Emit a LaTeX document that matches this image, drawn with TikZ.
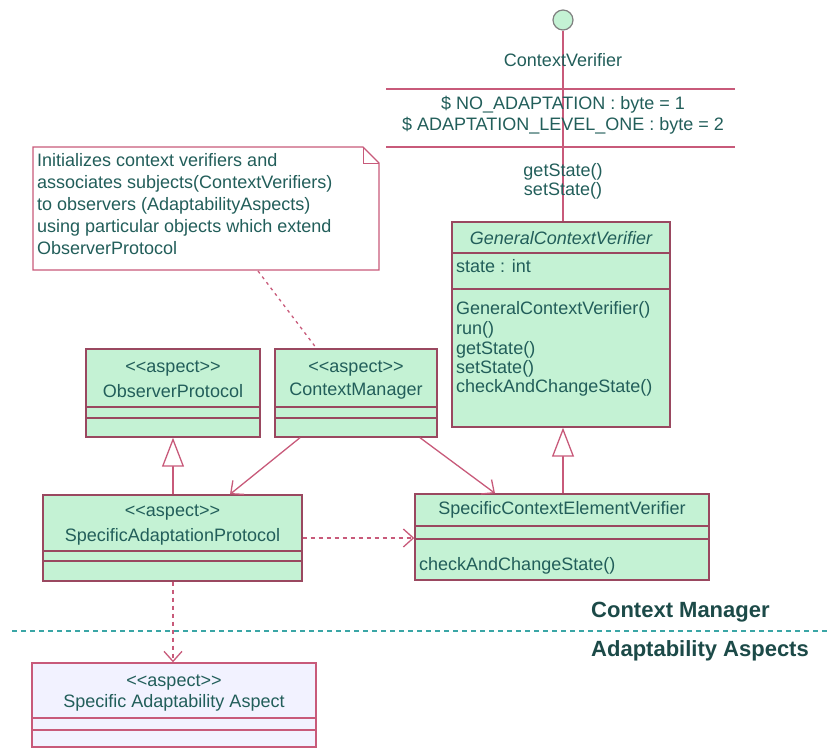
\documentclass[tikz,border=0pt]{standalone}
\usepackage{fontspec}
\setmainfont{Liberation Sans}
\usetikzlibrary{arrows.meta,calc}
\definecolor{boxfill}{HTML}{C4F2D4}
\definecolor{boxline}{HTML}{9A4860}
\definecolor{conn}{HTML}{C85A7A}
\definecolor{txt}{HTML}{225E5A}
\definecolor{lavfill}{HTML}{F2F2FF}
\definecolor{divline}{HTML}{3AA6A6}
\definecolor{bold}{HTML}{1C4A48}
\begin{document}
\begin{tikzpicture}[x=1pt,y=-1pt,
  cls/.style={draw=boxline, fill=boxfill, line width=1.4pt, rectangle, inner sep=0pt},
  sep/.style={draw=boxline, line width=1.4pt},
  t/.style={text=txt, font=\fontsize{18}{21}\selectfont, inner sep=0pt},
  tl/.style={t, anchor=west},
  lbl/.style={text=bold, font=\fontsize{22}{24}\selectfont\bfseries, anchor=west, inner sep=0pt},
  conline/.style={draw=conn, line width=1.3pt},
  gen/.style={conline, -{Triangle[length=29pt,width=22pt,fill=white]}},
  assoc/.style={conline, -{Straight Barb[length=10pt,width=18pt]}},
  dep/.style={conline, dash pattern=on 4pt off 4pt, -{Straight Barb[length=10pt,width=18pt]}},
  notelink/.style={conline, dash pattern=on 3pt off 4pt}
]
\useasboundingbox (0,0) rectangle (829,749);

% ---------- interface ContextVerifier ----------
\node[circle, draw=gray, fill=boxfill, line width=1.2pt, minimum size=20pt, inner sep=0pt] (CV) at (563,20) {};
\coordinate (hl1a) at (386,89);  \coordinate (hl1b) at (735,89);
\coordinate (hl2a) at (386,147); \coordinate (hl2b) at (735,147);
\draw[conline] (hl1a) -- (hl1b);
\draw[conline] (hl2a) -- (hl2b);

% ---------- GeneralContextVerifier ----------
\node[cls, minimum width=218pt, minimum height=205pt] (GCV) at (561,324.5) {};
\draw[conline] (CV.south) -- (GCV.north -| CV.south);
\node[t] (cvname) at (563,60) {ContextVerifier};
\node[t] (cva1) at (563,105) {\$ NO\_ADAPTATION : byte = 1};
\node[t] (cva2) at (563,126) {\$ ADAPTATION\_LEVEL\_ONE : byte = 2};
\node[t] (cvm1) at (563,172) {getState()};
\node[t] (cvm2) at (563,191) {setState()};

\draw[sep] (452,253) -- (670,253);
\draw[sep] (452,289) -- (670,289);
\node[t, font=\fontsize{18}{21}\selectfont\itshape] (gcvn) at (561,238) {GeneralContextVerifier};
\node[tl] (gcva) at (456,266) {state : int};
\node[tl] (gcvm1) at (456,310) {GeneralContextVerifier()};
\node[tl] (gcvm2) at (456,330) {run()};
\node[tl] (gcvm3) at (456,350) {getState()};
\node[tl] (gcvm4) at (456,369) {setState()};
\node[tl] (gcvm5) at (456,388) {checkAndChangeState()};

% ---------- note ----------
\draw[draw=conn, line width=1.2pt, fill=white] (33,147) -- (363,147) -- (379,163) -- (379,270) -- (33,270) -- cycle;
\draw[draw=conn, line width=1.0pt] (363,147) -- (363,163) -- (379,163);
\node[text=txt, font=\fontsize{18}{22}\selectfont, align=left, anchor=north west, inner sep=0pt] (notetext) at (37,153)
 {Initializes context verifiers and\\associates subjects(ContextVerifiers)\\to observers (AdaptabilityAspects)\\using particular objects which extend\\ObserverProtocol};
\coordinate (notebot) at (258,271);

% ---------- ObserverProtocol ----------
\node[cls, minimum width=174pt, minimum height=88pt] (OP) at (173,393) {};
\draw[sep] (86,407) -- (260,407);
\draw[sep] (86,418) -- (260,418);
\node[t] (op1) at (173,369) {<\kern0pt<aspect>\kern0pt>};
\node[t] (op2) at (173,391) {ObserverProtocol};

% ---------- ContextManager ----------
\node[cls, minimum width=162pt, minimum height=88pt] (CM) at (356,393) {};
\draw[sep] (275,407) -- (437,407);
\draw[sep] (275,418) -- (437,418);
\node[t] (cm1) at (356,369) {<\kern0pt<aspect>\kern0pt>};
\node[t] (cm2) at (356,391) {ContextManager};
\coordinate (cmtop) at (317,349);
\draw[notelink] (notebot) -- (cmtop);

% ---------- SpecificAdaptationProtocol ----------
\node[cls, minimum width=259pt, minimum height=86pt] (SAP) at (172.5,538) {};
\draw[sep] (43,551) -- (302,551);
\draw[sep] (43,561) -- (302,561);
\node[t] (sap1) at (172.5,513) {<\kern0pt<aspect>\kern0pt>};
\node[t] (sap2) at (172.5,537) {SpecificAdaptationProtocol};

% ---------- SpecificContextElementVerifier ----------
\node[cls, minimum width=294pt, minimum height=86pt] (SCEV) at (562,537) {};
\draw[sep] (415,526) -- (709,526);
\draw[sep] (415,539) -- (709,539);
\node[t] (scev1) at (562,510) {SpecificContextElementVerifier};
\node[tl] (scev2) at (419,566) {checkAndChangeState()};

% ---------- Specific Adaptability Aspect ----------
\node[draw=conn, fill=lavfill, line width=1.4pt, rectangle, inner sep=0pt, minimum width=284pt, minimum height=84pt] (SAA) at (174,705) {};
\draw[draw=conn, line width=1.3pt] (32,718) -- (316,718);
\draw[draw=conn, line width=1.3pt] (32,730) -- (316,730);
\node[t] (saa1) at (174,683) {<\kern0pt<aspect>\kern0pt>};
\node[t] (saa2) at (174,703) {Specific Adaptability Aspect};

% ---------- connectors ----------
\draw[gen] (SAP.north -| OP.south) -- (OP.south);
\draw[gen] (SCEV.north -| CV.south) -- (GCV.south -| CV.south);
\draw[assoc] ($(CM.south)+(-56,0)$) -- ($(SAP.north)+(57.5,0)$);
\draw[assoc] ($(CM.south)+(64,0)$) -- ($(SCEV.north)+(-67,0)$);
\draw[dep] (SAP.east) -- (SCEV.west |- SAP.east);
\draw[dep] (SAP.south -| OP.south) -- (SAA.north -| OP.south);

% ---------- layer divider ----------
\draw[draw=divline, line width=1.3pt, dash pattern=on 5pt off 4pt] (12,631) -- (829,631);
\node[lbl] (lcm) at (591,612) {Context Manager};
\node[lbl] (laa) at (591,651) {Adaptability Aspects};
\end{tikzpicture}
\end{document}
